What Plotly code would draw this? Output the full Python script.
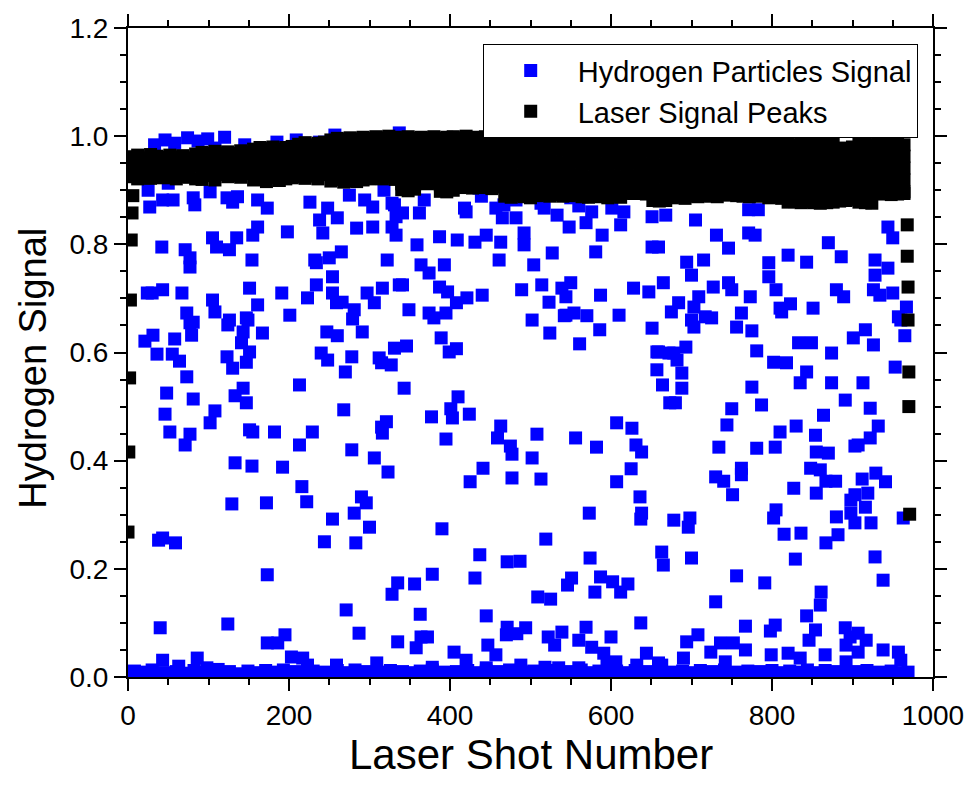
import plotly.graph_objects as go

# ---------------- Hydrogen particles signal (scattered shots) ----------------
hydrogen_shot = [
    33, 46, 58, 74, 87, 99, 108, 120, 145, 185,
    209, 238, 257, 337, 665, 672, 719, 953, 938,
    25, 27, 50, 43, 56, 81, 83, 102, 123, 130,
    136, 161, 173, 226, 248, 238, 260, 275, 294, 304,
    318, 328, 333, 161, 155, 198, 242, 284, 304, 328,
    42, 71, 77, 77, 105, 110, 126, 135, 154, 232,
    234, 250, 265, 322, 254, 234, 24, 30, 43, 67,
    105, 151, 161, 191, 223, 254, 259, 266, 281, 297,
    306, 316, 337, 73, 108, 147, 201, 126,
    77, 81, 79, 124, 149, 143, 141, 151, 147, 123,
    130, 167, 21, 31, 36, 58, 55, 64, 73, 48,
    81, 46, 108, 102, 52, 77, 71, 133, 143, 147,
    151, 155, 133, 154, 182, 192, 213, 229, 213, 247,
    260, 279, 291, 240, 248, 278, 270, 268, 312, 315,
    327, 331, 278, 306, 323, 315, 321, 316,
    129, 172, 222, 216, 290, 296, 281, 300, 254, 244,
    283, 38, 43, 59, 173, 328, 335, 271, 287, 40,
    124, 173, 186, 195, 203, 217, 223, 43, 63, 86,
    98, 259, 309, 335,
    349, 374, 395, 380, 389, 399, 408, 346, 343, 410,
    401, 403, 424, 377, 395, 463, 459, 475, 477, 502,
    508, 556, 582, 607, 626, 631, 638, 625, 607, 636,
    441, 425, 477, 513, 502, 524, 542, 554, 570, 586,
    561, 610, 651, 657, 657, 664, 673, 672,
    331, 341, 362, 368, 333, 359, 387, 409, 420, 418,
    431, 439, 436, 445, 457, 465, 467, 482, 482, 463,
    492, 492, 513, 517, 533, 548, 550, 560, 569, 576,
    589, 601, 616, 612, 651, 668, 651, 581, 527, 504,
    461, 393, 364, 374, 341, 387, 397, 421, 440, 489,
    514, 539, 550, 544, 523, 587, 628, 647, 665, 408,
    544,
    705, 731, 746, 771, 779, 771, 783, 659, 694, 715,
    700, 684, 709, 703, 675, 717, 727, 746, 750, 773,
    762, 796, 796, 805, 820, 843, 870, 886, 810, 823,
    851, 880, 889, 928, 944, 928, 926, 934, 950, 967,
    957, 944, 950,
    700, 703, 725, 756, 775, 812, 960, 965, 659, 678,
    693, 682, 688, 688, 680, 781, 802, 818, 833, 849,
    874, 901, 916, 926, 843, 835, 874, 913, 953, 891,
    922, 775, 787, 750, 744, 864, 830, 810, 854, 932,
    922, 903, 907, 734, 781, 804, 855, 870, 762, 762,
    730, 740, 848, 860, 867, 879, 912, 929, 941, 827,
    855, 751, 903, 919,
    898, 916, 898, 903, 923, 805, 802, 880, 882, 867,
    815, 836, 678, 698, 696, 663, 665, 700, 829, 928,
    963, 756, 791, 938, 730, 861, 860, 843, 854, 846,
    804, 798, 767, 708, 694, 736, 724, 752, 767, 690,
    742, 799, 820, 835, 866, 891, 897, 907, 917, 892,
    907, 938, 957, 960, 892, 659,
    390, 437, 431, 471, 487, 519, 573, 638, 637, 574,
    546, 551, 587, 602, 621, 580, 612, 509, 525, 356,
    378, 363, 445, 637, 358, 364, 372, 405, 420, 470,
    471, 483, 494, 447, 457, 522, 530, 539, 560, 569,
    576, 591, 600, 378, 445, 488, 518, 535, 560, 595,
    606, 632, 644, 663,
]
hydrogen_signal = [
    .984, .993, .987, .997, .991, .995, .978, .998, .984, .989,
    .993, .989, 1.002, 1.006, 1.006, 1.002, .993, .993, .913,
    .900, .869, .913, .882, .882, .886, .873, .897, .886, .878,
    .888, .882, .867, .878, .867, .845, .849, .891, .882, .869,
    .900, .876, .851, .832, .817, .823, .821, .830, .832, .832,
    .795, .790, .775, .758, .812, .795, .790, .812, .771, .771,
    .766, .775, .786, .771, .740, .725, .710, .710, .716, .710,
    .697, .719, .688, .710, .701, .710, .692, .693, .679, .710,
    .692, .719, .725, .673, .675, .664, .669, .660,
    .655, .656, .632, .651, .660, .638, .618, .601, .582, .592,
    .571, .636, .621, .632, .597, .625, .597, .584, .555, .525,
    .514, .486, .492, .470, .453, .449, .429, .520, .534, .507,
    .457, .453, .396, .390, .453, .388, .429, .453, .540, .638,
    .631, .662, .638, .599, .586, .592, .564, .494, .590, .581,
    .577, .608, .420, .405, .379, .462, .472, .451,
    .320, .322, .324, .352, .333, .322, .303, .277, .292, .250,
    .248, .253, .257, .248, .189, .153, .174, .124, .081, .091,
    .098, .063, .063, .078, .037, .035, .022, .031, .020, .035,
    .017, .022, .026, .065,
    .679, .673, .673, .664, .627, .601, .607, .612, .534, .518,
    .496, .479, .486, .481, .440, .464, .442, .427, .412, .405,
    .449, .442, .425, .470, .460, .429, .416, .385, .361, .333,
    .386, .361, .368, .366, .660, .636, .668, .673, .668, .642,
    .616, .669, .645, .601, .568, .540, .507, .599,
    .873, .858, .858, .882, .817, .799, .814, .808, .860, .867,
    .804, .889, .904, .817, .867, .849, .873, .882, .849, .804,
    .821, .799, .876, .867, .854, .832, .886, .871, .840, .860,
    .817, .867, .860, .836, .851, .854, .795, .786, .784, .762,
    .771, .762, .762, .747, .725, .721, .712, .701, .706, .716,
    .725, .719, .729, .703, .693, .706, .719, .712, .729, .692,
    .669,
    .845, .817, .793, .821, .817, .864, .864, .795, .767, .771,
    .743, .692, .703, .684, .675, .666, .721, .729, .716, .703,
    .673, .766, .740, .716, .780, .767, .803, .777, .682, .690,
    .682, .716, .703, .771, .756, .743, .716, .706, .710, .684,
    .666, .832, .812,
    .660, .647, .664, .647, .640, .675, .660, .631, .601, .599,
    .610, .586, .562, .534, .507, .603, .582, .581, .618, .618,
    .599, .627, .642, .614, .564, .544, .544, .544, .573, .512,
    .497, .536, .503, .496, .466, .484, .464, .453, .447, .464,
    .442, .427, .429, .425, .423, .425, .416, .414, .386, .374,
    .370, .362, .386, .383, .362, .362, .366, .377, .361, .349,
    .340, .337, .337, .340,
    .327, .314, .303, .285, .285, .309, .294, .296, .263, .248,
    .264, .266, .290, .294, .277, .231, .207, .220, .218, .222,
    .294, .187, .174, .179, .139, .157, .133, .113, .087, .068,
    .096, .085, .094, .078, .065, .063, .046, .063, .050, .035,
    .028, .041, .044, .035, .041, .091, .074, .081, .068, .059,
    .046, .050, .046, .031, .028, .026,
    .274, .226, .183, .213, .214, .255, .303, .303, .292, .220,
    .170, .183, .185, .176, .172, .157, .157, .148, .144, .172,
    .190, .116, .113, .100, .054, .074, .074, .046, .031, .078,
    .092, .080, .091, .059, .041, .074, .059, .083, .068, .092,
    .055, .044, .074, .018, .017, .022, .018, .017, .017, .022,
    .028, .022, .044, .022,
]

# near-zero hydrogen shots (dense band along the bottom)
hydrogen_base_shot = [
    1, 8, 15, 23, 30, 37, 45, 52, 60, 67,
    82, 89, 97, 104, 112, 119, 126, 134, 141, 149,
    156, 163, 171, 178, 186, 193, 200, 208, 215, 223,
    230, 237, 245, 252, 260, 267, 274, 282, 289, 297,
    304, 311, 319, 326, 334, 341, 348, 356, 363, 371,
    378, 385, 393, 400, 408, 415, 422, 430, 437, 445,
    452, 459, 467, 474, 482, 489, 496, 504, 511, 519,
    526, 533, 541, 548, 556, 563, 570, 578, 585, 593,
    600, 607, 615, 622, 630, 637, 644, 652, 659, 667,
    674, 681, 689, 696, 704, 711, 718, 726, 733, 741,
    748, 755, 763, 770, 778, 785, 792, 800, 807, 815,
    822, 829, 837, 844, 852, 859, 866, 874, 881, 889,
    896, 903, 911, 918, 926, 933, 940, 948, 955, 963,
    969,
]
hydrogen_base_signal = [
    .006, .011, .004, .009, .013, .005, .008, .003, .010, .007,
    .012, .005, .009, .004, .014, .007, .010, .006, .003, .011,
    .008, .004, .012, .006, .009, .013, .005, .010, .007, .003,
    .011, .006, .009, .004, .012, .008, .005, .013, .007, .010,
    .004, .009, .006, .012, .003, .010, .008, .005, .011, .007,
    .013, .006, .009, .004, .010, .007, .012, .005, .008, .011,
    .005, .010, .007, .013, .004, .009, .006, .011, .008, .003,
    .012, .007, .004, .010, .006, .013, .008, .005, .011, .009,
    .006, .011, .004, .008, .012, .005, .010, .007, .013, .004,
    .009, .006, .011, .004, .008, .012, .005, .010, .007, .013,
    .004, .009, .006, .011, .005, .010, .007, .012, .004, .008,
    .011, .006, .009, .013, .004, .008, .012, .005, .010, .007,
    .005, .010, .007, .012, .004, .009, .006, .011, .008, .005,
    .009,
]

# ---------------- Laser signal peaks ----------------
# each row: shot number followed by the peak values read in that column of the band
laser_band = [
    [4, .962, .944, .925], [12, .965, .948, .930, .921], [20, .960, .941, .924],
    [28, .966, .950, .933, .922], [36, .963, .944, .926], [44, .961, .947, .929, .923],
    [52, .965, .942, .924], [60, .962, .946, .931, .921], [68, .964, .943, .925],
    [76, .960, .948, .930, .924], [84, .967, .945, .921],
    [92, .970, .951, .934, .920], [100, .968, .946, .927], [108, .972, .954, .936, .919],
    [116, .969, .948, .929], [124, .971, .953, .935, .925], [132, .968, .947, .927],
    [140, .973, .955, .938, .924], [148, .970, .950, .931],
    [156, .976, .957, .938, .919], [164, .979, .960, .941, .922], [172, .977, .955, .934, .916],
    [180, .980, .961, .943, .924], [188, .976, .956, .936, .918], [196, .979, .960, .940, .921],
    [204, .981, .962, .942, .923],
    [212, .985, .965, .945, .925], [220, .988, .968, .948, .922], [228, .984, .963, .943, .926],
    [236, .987, .967, .946, .921], [244, .989, .969, .949, .929],
    [252, .993, .972, .951, .932, .917], [260, .996, .975, .955, .935, .920],
    [268, .994, .973, .952, .930, .915], [276, .997, .976, .956, .936, .918],
    [284, .995, .974, .953, .933, .916], [292, .998, .977, .957, .937, .919],
    [300, .996, .975, .954, .934, .921],
    [308, .999, .978, .958, .940, .923], [316, .997, .976, .955, .936, .921],
    [324, 1.0, .979, .959, .941, .924], [332, .998, .977, .956, .937, .920],
    [340, .997, .976, .954, .932, .912, .901], [348, .999, .978, .957, .936, .915, .899],
    [356, .996, .975, .953, .931, .910, .902], [364, .998, .977, .956, .934, .913],
    [372, .997, .976, .955, .933, .912], [380, .999, .978, .956, .935, .914],
    [388, .996, .974, .952, .930, .910, .898], [396, .998, .977, .955, .933, .912, .897],
    [404, .999, .978, .956, .934, .913, .900], [412, .997, .976, .954, .932, .911, .905],
    [420, 1.0, .979, .957, .935, .914, .906], [428, .998, .977, .955, .933, .911, .904],
    [436, .997, .976, .954, .932, .910, .907], [444, .999, .978, .956, .934, .912, .905],
    [452, 1.0, .979, .957, .935, .913, .903], [460, .998, .977, .955, .933, .911, .906],
    [468, .997, .976, .953, .931, .909, .889], [476, .999, .978, .956, .933, .910, .887],
    [484, .996, .975, .952, .929, .907, .890], [492, .998, .977, .954, .931, .908, .888],
    [500, .997, .976, .953, .930, .907, .886], [508, .995, .974, .951, .928, .906, .890],
    [516, .996, .975, .952, .929, .908, .891], [524, .994, .973, .950, .927, .905, .889],
    [532, .997, .976, .953, .930, .907, .892], [540, .995, .974, .951, .928, .906, .889],
    [548, .993, .972, .949, .926, .904, .890], [556, .996, .975, .952, .929, .907, .891],
    [564, .994, .973, .950, .927, .905, .888], [572, .992, .971, .948, .925, .903, .887],
    [580, .995, .974, .951, .928, .906, .889], [588, .993, .972, .949, .926, .904, .888],
    [596, .991, .970, .947, .924, .902, .886], [604, .994, .973, .950, .927, .905, .889],
    [612, .992, .971, .948, .925, .903, .887], [620, .993, .972, .949, .926, .905, .895],
    [628, .994, .973, .950, .927, .906, .894], [636, .992, .971, .948, .925, .904, .896],
    [644, .993, .972, .949, .926, .905, .893], [652, .990, .969, .946, .923, .900, .881],
    [660, .991, .970, .947, .924, .901, .880], [668, .989, .968, .945, .922, .899, .881],
    [676, .987, .966, .944, .922, .900, .886], [684, .988, .967, .945, .923, .901, .887],
    [692, .986, .965, .943, .921, .899, .885], [700, .987, .966, .944, .922, .900, .889],
    [708, .988, .967, .945, .923, .901, .888], [716, .986, .965, .943, .921, .899, .890],
    [724, .987, .966, .944, .922, .900, .889], [732, .988, .967, .945, .923, .902, .888],
    [740, .986, .965, .943, .921, .900, .891], [748, .987, .966, .944, .922, .901, .892],
    [756, .988, .967, .945, .923, .902, .890], [764, .986, .965, .943, .921, .899, .889],
    [772, .987, .966, .944, .922, .900, .888], [780, .988, .967, .945, .923, .901, .890],
    [788, .986, .965, .943, .921, .899, .889], [796, .987, .966, .944, .922, .900, .886],
    [804, .988, .967, .945, .923, .901, .887], [812, .986, .965, .943, .921, .899, .885],
    [820, .985, .964, .942, .920, .898, .878], [828, .984, .963, .941, .919, .897, .879],
    [836, .986, .965, .943, .921, .899, .877], [844, .985, .964, .942, .920, .898, .878],
    [852, .993, .972, .950, .928, .906, .884, .877], [860, .994, .973, .951, .929, .907, .885, .876],
    [868, .995, .974, .952, .930, .908, .886, .877], [876, .993, .972, .950, .928, .906, .884, .878],
    [884, .978, .957, .935, .913, .891, .880], [892, .977, .956, .934, .912, .890, .881],
    [900, .980, .959, .937, .915, .893, .883],
    [908, .985, .964, .942, .920, .898, .878], [916, .986, .965, .943, .921, .899, .877],
    [924, .984, .963, .941, .919, .897, .876],
    [932, .986, .965, .943, .921, .899, .893], [940, .987, .966, .944, .922, .900, .894],
    [948, .985, .964, .942, .920, .898, .892], [956, .986, .965, .943, .921, .899, .893],
    [964, .984, .963, .941, .919, .897, .894],
]
# ramp-up at the first shots and ramp-down at the last shots
laser_ramp_shot = [0, 1, 2, 3, 4, 5, 6, 968, 968, 969, 969, 970, 970, 971]
laser_ramp_peak = [.268, .416, .553, .697, .808, .858, .890,
                   .836, .778, .721, .660, .564, .500, .301]

laser_shot = [row[0] for row in laser_band for _ in row[1:]] + laser_ramp_shot
laser_peak = [v for row in laser_band for v in row[1:]] + laser_ramp_peak

FONT = "Arial, Liberation Sans, Helvetica, sans-serif"

fig = go.Figure()
fig.add_trace(go.Scatter(
    x=hydrogen_shot + hydrogen_base_shot,
    y=hydrogen_signal + hydrogen_base_signal,
    mode="markers", name="Hydrogen Particles Signal",
    marker=dict(symbol="square", size=13, color="#0000ff", line=dict(width=0)),
))
fig.add_trace(go.Scatter(
    x=laser_shot, y=laser_peak,
    mode="markers", name="Laser Signal Peaks",
    marker=dict(symbol="square", size=13, color="#000000", line=dict(width=0)),
))

axis_common = dict(
    showgrid=False, zeroline=False, showline=True, linecolor="black", linewidth=2,
    mirror="allticks", ticks="outside", ticklen=12, tickwidth=2, tickcolor="black",
    tickfont=dict(family=FONT, size=28, color="black"),
)
fig.update_xaxes(
    range=[0, 1000], dtick=200, tick0=0,
    minor=dict(dtick=50, ticks="outside", ticklen=6, tickwidth=2, tickcolor="black"),
    **axis_common,
)
fig.update_yaxes(
    range=[0, 1.2], dtick=0.2, tick0=0, tickformat=".1f",
    minor=dict(dtick=0.05, ticks="outside", ticklen=6, tickwidth=2, tickcolor="black"),
    **axis_common,
)
fig.update_layout(
    width=976, height=791,
    margin=dict(l=128, r=41, t=28, b=114),
    paper_bgcolor="white", plot_bgcolor="white",
    font=dict(family=FONT, color="black"),
    showlegend=True,
    legend=dict(
        x=0.981, y=0.975, xanchor="right", yanchor="top",
        bgcolor="white", bordercolor="black", borderwidth=1,
        font=dict(family=FONT, size=29, color="black"),
        itemwidth=84, tracegroupgap=0,
    ),
    annotations=[
        dict(
            text="Hydrogen Signal", textangle=-90, showarrow=False,
            xref="paper", yref="paper", x=-0.118, y=0.475,
            xanchor="center", yanchor="middle",
            font=dict(family=FONT, size=38, color="black"),
        ),
        dict(
            text="Laser Shot Number", showarrow=False,
            xref="paper", yref="paper", x=0.5, y=-0.12,
            xanchor="center", yanchor="middle",
            font=dict(family=FONT, size=42, color="black"),
        ),
    ],
)
fig.write_html("out.html")
